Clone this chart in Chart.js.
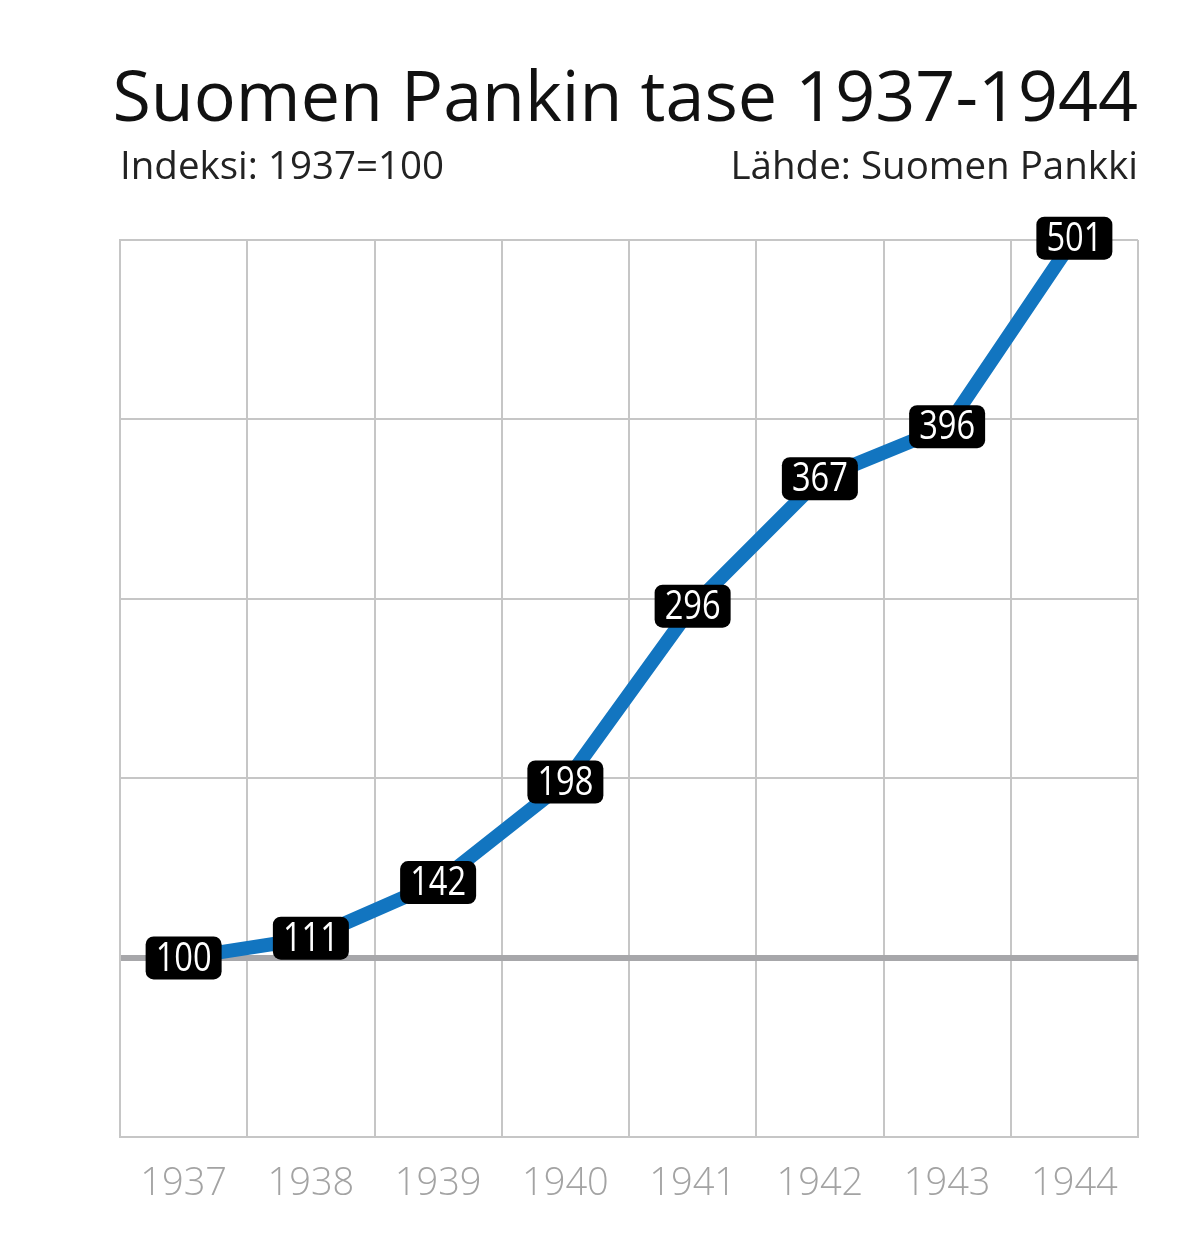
<!DOCTYPE html>
<html>
<head>
<meta charset="utf-8">
<script src="https://cdn.jsdelivr.net/npm/chart.js@4"></script>
<style>
  html, body { margin: 0; padding: 0; background: #fff; }
  #wrap { width: 1199px; height: 1259px; }
</style>
</head>
<body>
<div id="wrap"><canvas id="taseChart"></canvas></div>
<script>
// data
const years = ['1937', '1938', '1939', '1940', '1941', '1942', '1943', '1944'];
const indexValues = [100, 111, 142, 198, 296, 367, 396, 501];

const titleText = 'Suomen Pankin tase 1937-1944';
const subLeft = 'Indeksi: 1937=100';
const subRight = 'Lähde: Suomen Pankki';

// title + subtitles drawn straight on the canvas
const headerPlugin = {
  id: 'header',
  afterDraw(chart) {
    const ctx = chart.ctx;
    const area = chart.chartArea;
    ctx.save();
    ctx.fillStyle = '#111';
    ctx.textBaseline = 'alphabetic';
    ctx.font = '400 70px "Open Sans"';
    ctx.textAlign = 'right';
    ctx.fillText(titleText, area.right, 121);
    ctx.font = '400 38.5px "Open Sans"';
    ctx.fillStyle = '#222';
    ctx.textAlign = 'left';
    ctx.fillText(subLeft, area.left, 179);
    ctx.textAlign = 'right';
    ctx.fillText(subRight, area.right, 179);
    ctx.restore();
  }
};

// black value tags on each point
const tagPlugin = {
  id: 'tags',
  afterDatasetsDraw(chart) {
    const ctx = chart.ctx;
    const meta = chart.getDatasetMeta(0);
    ctx.save();
    ctx.font = '400 41px "Open Sans"';
    ctx.textAlign = 'center';
    ctx.textBaseline = 'middle';
    meta.data.forEach((pt, i) => {
      const w = 76, h = 43;
      ctx.fillStyle = '#000';
      ctx.beginPath();
      ctx.roundRect(pt.x - w / 2, pt.y - h / 2, w, h, 8);
      ctx.fill();
      ctx.fillStyle = '#fff';
      ctx.fillText(String(indexValues[i]), pt.x, pt.y + 1, 56);
    });
    ctx.restore();
  }
};

const chart = new Chart(document.getElementById('taseChart'), {
  type: 'line',
  data: {
    labels: years,
    datasets: [{
      data: indexValues,
      borderColor: '#1275c0',
      borderWidth: 14,
      pointRadius: 0,
      tension: 0,
      clip: false
    }]
  },
  options: {
    responsive: true,
    maintainAspectRatio: false,
    animation: false,
    layout: { padding: { left: 120, right: 61, top: 240, bottom: 28 } },
    plugins: {
      legend: { display: false },
      tooltip: { enabled: false }
    },
    scales: {
      x: {
        offset: true,
        grid: {
          offset: true,
          color: '#c6c6c6',
          lineWidth: 2,
          drawTicks: false
        },
        border: { color: '#c6c6c6', width: 2 },
        ticks: {
          padding: 24,
          color: '#a3a3a3',
          font: { family: '"Open Sans"', size: 38, weight: '300' }
        }
      },
      y: {
        min: 0,
        max: 500,
        ticks: { display: false, stepSize: 100 },
        grid: {
          drawTicks: false,
          color: c => c.tick && c.tick.value === 100 ? '#a7a7aa' : '#c6c6c6',
          lineWidth: c => c.tick && c.tick.value === 100 ? 6 : 2
        },
        border: { color: '#c6c6c6', width: 2 }
      }
    }
  },
  plugins: [headerPlugin, tagPlugin]
});
</script>
</body>
</html>
